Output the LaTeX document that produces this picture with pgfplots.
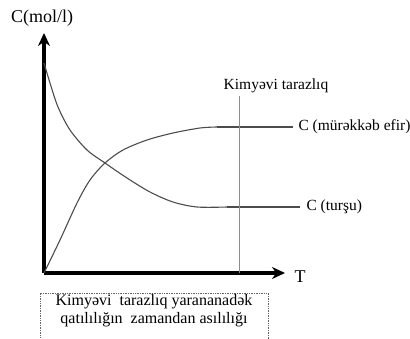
\documentclass[border=0pt]{standalone}
\usepackage{fontspec}
\setmainfont{Liberation Serif}
\usepackage{pgfplots}
\pgfplotsset{compat=1.18}
\usetikzlibrary{arrows.meta}

\begin{document}
\begin{tikzpicture}
\begin{axis}[
  at={(0,0)}, anchor=origin,
  x=1pt, y=1pt,
  xmin=0, xmax=241, ymin=0, ymax=240,
  axis x line=bottom, axis y line=left,
  xtick=\empty, ytick=\empty,
  axis line style={line width=3.2pt, -{Stealth[length=13pt,width=12pt]}},
  clip=false,
  font=\fontsize{15.5}{18}\selectfont,
]
% C (mürəkkəb efir)
\addplot[smooth, tension=0.5, line width=1.1pt, black!70] coordinates {
  (0,0) (16,33) (33,70) (46,93) (61,110) (79,123) (103,133) (129,140) (156,145) (173,146)
};
\addplot[sharp plot, line width=1.1pt, black!70] coordinates {(173,146) (249,146)};
% C (turşu)
\addplot[smooth, tension=0.5, line width=1.1pt, black!70] coordinates {
  (0,210) (6,190) (14,166) (26,143) (43,123) (61,110) (83,95) (106,81) (129,71) (153,66) (183,66)
};
\addplot[sharp plot, line width=1.1pt, black!70] coordinates {(183,66) (256,66)};
% equilibrium line
\addplot[sharp plot, line width=0.5pt, black!45] coordinates {(195,0) (195,177)};

\node[anchor=west] at (axis cs:251,146) {C (mürəkkəb efir)};
\node[anchor=west] at (axis cs:259,66) {C (turşu)};
\node at (axis cs:232,187) {Kimyəvi tarazlıq};
\node[font=\fontsize{18}{20}\selectfont] at (axis cs:-2,255) {C(mol/l)};
\node[font=\fontsize{18}{20}\selectfont] at (axis cs:256,-4) {T};
\draw[densely dotted, black!60, line width=0.7pt] (axis cs:-4,-90) rectangle (axis cs:224,-20);
\node[align=center, font=\fontsize{16}{18}\selectfont] at (axis cs:110,-38)
  {Kimyəvi\ \ tarazlıq yarananadək\\qatılılığın\ \ zamandan asılılığı};
\end{axis}
\pgfresetboundingbox
\path (-44pt,-65pt) rectangle (366pt,273pt);
\end{tikzpicture}
\end{document}
